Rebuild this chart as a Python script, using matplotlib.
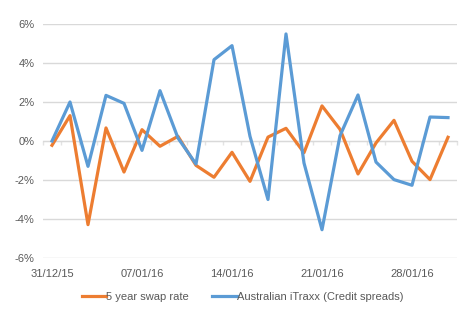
import matplotlib
matplotlib.use("Agg")
import matplotlib.pyplot as plt
from matplotlib.ticker import FuncFormatter, MultipleLocator, FixedLocator

plt.rcParams['font.family'] = ['Liberation Sans', 'DejaVu Sans']

dates = ["31/12/15", "01/01/16", "04/01/16", "05/01/16", "06/01/16", "07/01/16",
         "08/01/16", "11/01/16", "12/01/16", "13/01/16", "14/01/16", "15/01/16",
         "18/01/16", "19/01/16", "20/01/16", "21/01/16", "22/01/16", "25/01/16",
         "26/01/16", "27/01/16", "28/01/16", "29/01/16", "01/02/16"]
swap = [-0.22, 1.30, -4.29, 0.67, -1.59, 0.58, -0.27, 0.24, -1.25, -1.86, -0.58,
        -2.07, 0.20, 0.65, -0.60, 1.80, 0.60, -1.69, -0.10, 1.06, -1.04, -1.98, 0.19]
itraxx = [0.0, 2.0, -1.30, 2.34, 1.93, -0.48, 2.58, 0.15, -1.18, 4.17, 4.89,
          0.24, -3.0, 5.49, -1.13, -4.55, 0.27, 2.36, -1.08, -1.98, -2.27, 1.23, 1.20]
label_every = 5
series_names = ["5 year swap rate", "Australian iTraxx (Credit spreads)"]

txt = '#595959'
fs = 8
fig = plt.figure(figsize=(4.66, 3.22), dpi=100)
ax = fig.add_axes([43/466, 1-258/322, 414/466, 234/322])
x = list(range(len(dates)))
ax.plot(x, swap, color='#ED7D31', lw=2.3, label=series_names[0], solid_joinstyle='round', zorder=3)
ax.plot(x, itraxx, color='#5B9BD5', lw=2.3, label=series_names[1], solid_joinstyle='round', zorder=4)

ax.set_xlim(-0.5, len(dates) - 0.5)
ax.set_ylim(-6, 6)
ax.yaxis.set_major_locator(MultipleLocator(2))
ax.yaxis.set_major_formatter(FuncFormatter(lambda v, p: f"{v:.0f}%"))
ax.grid(axis='y', color='#D9D9D9', lw=1)
ax.set_axisbelow(True)
for s in ['top', 'right', 'left']:
    ax.spines[s].set_visible(False)
ax.spines['bottom'].set_position(('data', 0))
ax.spines['bottom'].set_color('#D9D9D9')
ax.spines['bottom'].set_zorder(2)
ax.xaxis.set_major_locator(FixedLocator([i - 0.5 for i in range(len(dates) + 1)]))
ax.tick_params(axis='x', which='major', labelbottom=False, color='#E3E3E3', length=3, width=1, direction='out')
ax.tick_params(axis='y', length=0, labelcolor=txt, labelsize=fs, pad=6)

sec = ax.secondary_xaxis('bottom')
sec.set_xticks(x[::label_every])
sec.set_xticklabels(dates[::label_every])
sec.tick_params(length=0, labelcolor=txt, labelsize=fs, pad=8)
sec.spines['bottom'].set_visible(False)

fig.legend(loc='center', bbox_to_anchor=(0.52, 1-297/322), ncol=2, frameon=False,
           fontsize=fs, labelcolor=txt, handlelength=2.2, handletextpad=0.0, columnspacing=2.1)

fig.savefig('out.png', dpi=100)
